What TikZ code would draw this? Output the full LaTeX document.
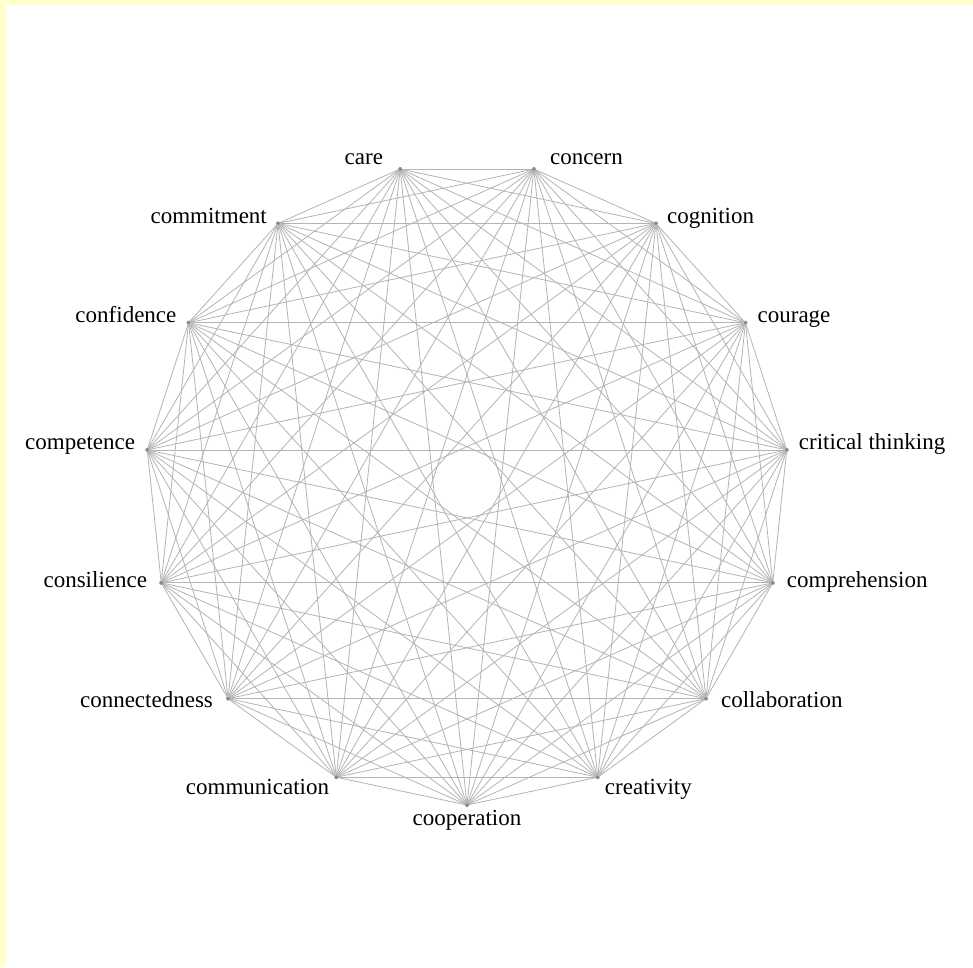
\documentclass[tikz,border=0pt]{standalone}
\usepackage{fontspec}
\setmainfont{Liberation Serif}
\usetikzlibrary{positioning}

\definecolor{paper}{HTML}{FFFFCC}
\definecolor{linkgray}{HTML}{B4B4B4}
\definecolor{dotgray}{HTML}{8C8C8C}

\begin{document}
\begin{tikzpicture}[x=1pt, y=1pt,
	vertex/.style={circle, fill=dotgray, inner sep=0pt, minimum size=4pt},
	link/.style={draw=linkgray, line width=0.8pt},
	term/.style={font=\fontsize{23}{27}\selectfont, inner sep=0pt}]
	
	\fill[paper] (0,0) rectangle (973,-967);
	\fill[white] (6,-5) rectangle (973,-967);
	\useasboundingbox (0,0) rectangle (973,-967);
	
	\begin{scope}[shift={(467,-483.5)}]
	
	% vertices, counter-clockwise from the bottom
	\foreach \i in {1,...,15}
		\node[vertex] (n\i) at ({-90+24*(\i-1)}:321.5) {};
	
	% every pair is linked
	\foreach \i in {1,...,15}
		\foreach \j in {\i,...,15}
			{\ifnum\j>\i \draw[link] (n\i) -- (n\j); \fi}
	
	\end{scope}
	
	\foreach \i/\anc/\dx/\dy/\txt in {
		1/base/0/-20/cooperation,
		2/base west/7/-17/creativity,
		3/base west/15/-9/collaboration,
		4/base west/14/-5/comprehension,
		5/base west/12/0/critical thinking,
		6/base west/12/0/courage,
		7/base west/11/0/cognition,
		8/base west/16/5/concern,
		9/base east/-17/5/care,
		10/base east/-11/0/commitment,
		11/base east/-12/0/confidence,
		12/base east/-12/0/competence,
		13/base east/-14/-5/consilience,
		14/base east/-15/-9/connectedness,
		15/base east/-7/-17/communication}
		\node[term, anchor=\anc] (t\i) at ([shift={(\dx,\dy)}]n\i) {\txt};
	
\end{tikzpicture}
\end{document}
